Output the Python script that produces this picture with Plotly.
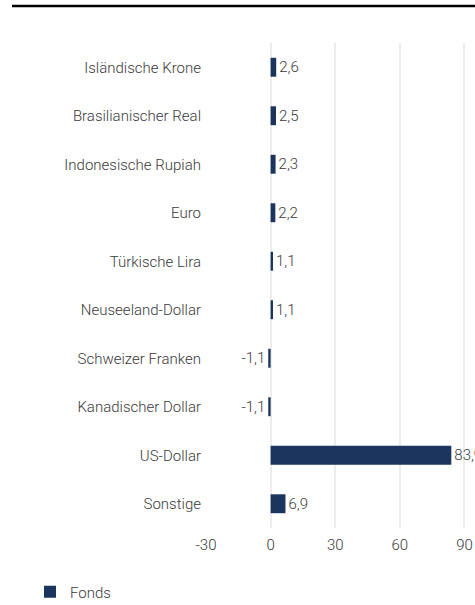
import plotly.graph_objects as go

categories = ["Isländische Krone", "Brasilianischer Real", "Indonesische Rupiah", "Euro",
              "Türkische Lira", "Neuseeland-Dollar", "Schweizer Franken", "Kanadischer Dollar",
              "US-Dollar", "Sonstige"]
fonds = [2.6, 2.5, 2.3, 2.2, 1.1, 1.1, -1.1, -1.1, 83.9, 6.9]
tick_vals = [-30, 0, 30, 60, 90]
tick_text = ["-30", "0", "30", "60", "90"]
series_name = "Fonds"

FONT = "Roboto, sans-serif"
TXT = "#3a3a3a"
BAR = "#1c355e"

W, H = 475, 605
L, R, T, B = 206, 0, 43, 77
pw, ph = W - L - R, H - T - B

bar_text = [f"{v:.1f}".replace(".", ",") for v in fonds]

fig = go.Figure()
fig.add_trace(go.Bar(
    y=categories, x=fonds, orientation="h", name=series_name,
    marker=dict(color=BAR, line=dict(width=0)),
    text=bar_text, texttemplate="%{text}", textposition="outside", cliponaxis=True,
    textfont=dict(family=FONT, size=15, color=TXT, weight=300),
    showlegend=True,
))

fig.update_layout(
    width=W, height=H,
    margin=dict(l=L, r=R, t=T, b=B, autoexpand=False),
    plot_bgcolor="white", paper_bgcolor="white",
    bargap=0.61,
    font=dict(family=FONT, size=15, color=TXT, weight=300),
    xaxis=dict(range=[-30, 94.9], tickvals=tick_vals, ticktext=tick_text, showgrid=True,
               gridcolor="#ececec", gridwidth=2, zeroline=False,
               showline=False, ticks="outside", ticklen=3, tickcolor="white",
               automargin=False,
               tickfont=dict(family=FONT, size=15, color=TXT, weight=300)),
    yaxis=dict(categoryorder="array", categoryarray=categories[::-1],
               showgrid=False, zeroline=False, showline=False,
               ticks="outside", ticklen=1, tickcolor="white", automargin=False,
               tickfont=dict(family=FONT, size=15, color=TXT, weight=300)),
    legend=dict(orientation="h", xref="container", yref="container",
                x=30 / W, y=(H - 592) / H,
                xanchor="left", yanchor="middle",
                font=dict(family=FONT, size=15, color=TXT, weight=300)),
    shapes=[dict(type="line", xref="paper", yref="paper",
                 x0=(12 - L) / pw, x1=(W - L) / pw,
                 y0=(T + ph - 6) / ph, y1=(T + ph - 6) / ph,
                 line=dict(color="black", width=2.5))],
)

fig.write_html("out.html", config={"displayModeBar": False},
               post_script="document.body.style.margin='0px';document.body.style.overflow='hidden';")
